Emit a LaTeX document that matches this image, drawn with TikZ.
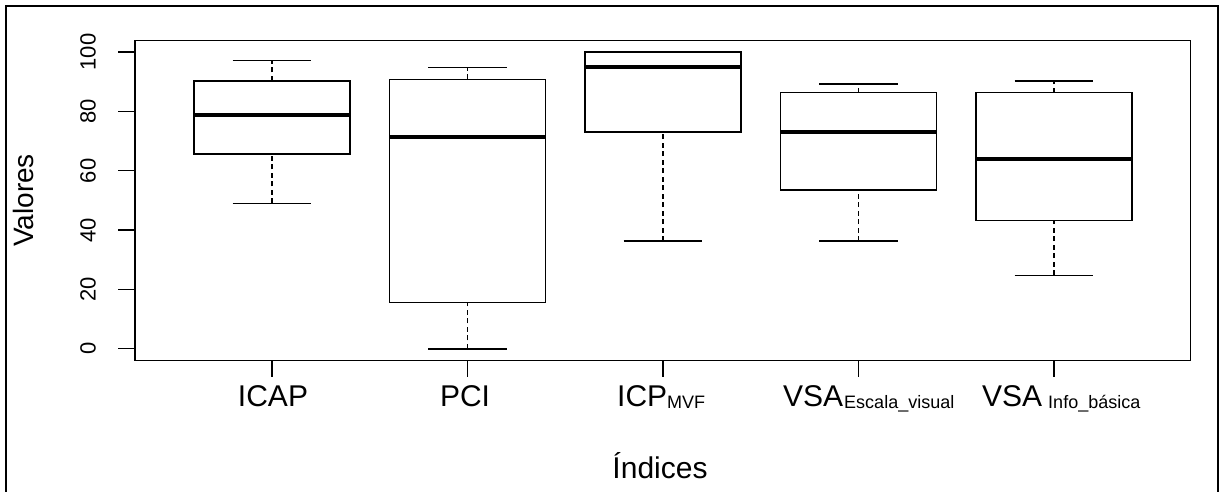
\documentclass[tikz,border=0pt]{standalone}
\usepackage{fontspec}
\setmainfont{Liberation Sans}
\newcommand\bxplot[6]{%
  \draw[whisk] (#1,#2) -- (#1,#3);
  \draw[whisk] (#1,#5) -- (#1,#6);
  \draw[boxline] ({#1-39.4},#2) -- ({#1+39.4},#2);
  \draw[boxline] ({#1-39.4},#6) -- ({#1+39.4},#6);
  \draw[boxline,fill=white] ({#1-78},#3) rectangle ({#1+78},#5);
  \draw[medline] ({#1-77.3},#4) -- ({#1+77.3},#4);
}
\begin{document}
\begin{tikzpicture}[x=1pt,y=-1pt,
  axisline/.style={line width=1.3pt},
  boxline/.style={line width=1.4pt},
  medline/.style={line width=4.5pt},
  whisk/.style={line width=1.4pt,dash pattern=on 5pt off 3.5pt},
  lab/.style={font=\fontsize{30}{30}\selectfont, inner sep=0pt},
  ticklab/.style={font=\fontsize{22}{22}\selectfont, rotate=90, inner sep=0pt}]
\useasboundingbox (0,0) rectangle (1220,492);
% outer frame
\draw[line width=2pt] (5.5,495) -- (5.5,6) -- (1217.7,6) -- (1217.7,495);
% plot box
\draw[axisline] (135,40.3) rectangle (1190.7,360.7);
% x ticks
\foreach \c in {271.9,467.4,662.9,858.4,1053.9}
  \draw[axisline] (\c,360.7) -- (\c,376.7);
% data scope
\begin{scope}[shift={(0,348.8)}, y=2.967pt]
  \foreach \v in {0,20,...,100}{
    \draw[axisline] (135,\v) -- (117.7,\v);
    \node[ticklab] (t\v) at (88,\v) {\v};
  }
  \bxplot{271.9}{49.0}{65.6}{78.8}{90.3}{97.2}
  \bxplot{467.4}{0}{15.7}{71.4}{90.8}{94.9}
  \bxplot{662.9}{36.3}{73.1}{94.9}{100}{100}
  \bxplot{858.4}{36.3}{53.5}{73.1}{86.3}{89.2}
  \bxplot{1053.9}{24.8}{43.2}{63.9}{86.3}{90.2}
\end{scope}
% labels
\node[lab, anchor=base] (l1) at (273,406) {ICAP};
\node[lab, anchor=base] (l2) at (465,406) {PCI};
\node[lab, anchor=base west] (l3) at (617,406) {ICP\raisebox{-2pt}{\fontsize{18}{18}\selectfont MVF}};
\node[lab, anchor=base west] (l4) at (783,406) {VSA\hspace{1pt}\raisebox{-2pt}{\fontsize{18}{18}\selectfont Escala\_visual}};
\node[lab, anchor=base west] (l5) at (982,406) {VSA\hspace{6pt}\raisebox{-2pt}{\fontsize{18}{18}\selectfont Info\_básica}};
\node[lab, anchor=base] (xl) at (660,478) {Índices};
\node[font=\fontsize{28}{28}\selectfont, rotate=90, inner sep=0pt] (yl) at (23,200.5) {Valores};
\end{tikzpicture}
\end{document}
